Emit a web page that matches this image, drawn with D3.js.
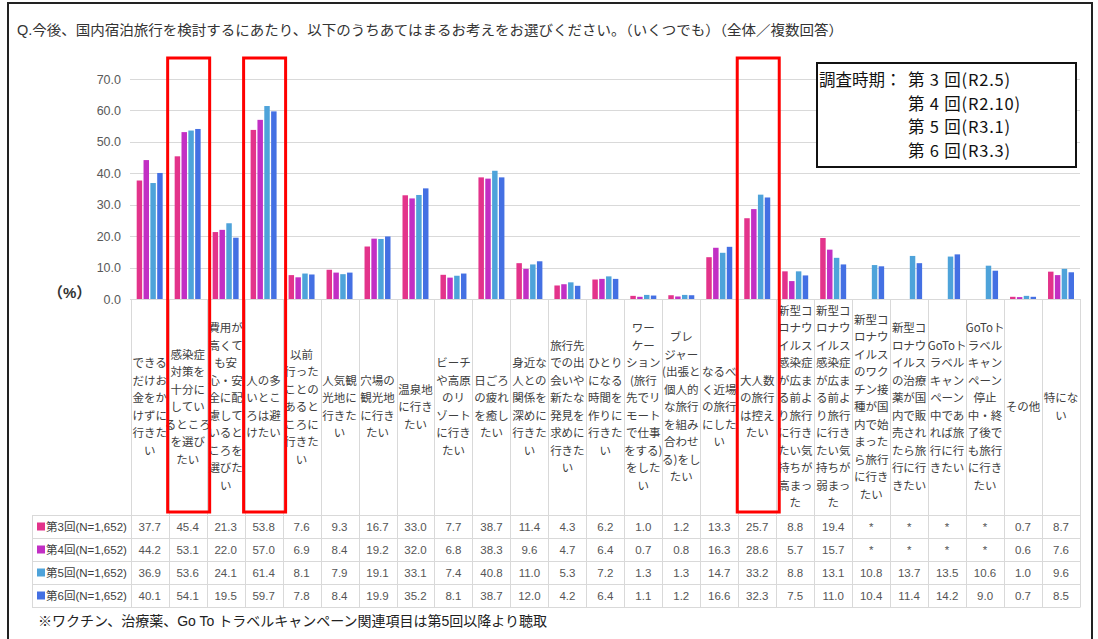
<!DOCTYPE html>
<html lang="ja">
<head>
<meta charset="UTF-8">
<title>国内宿泊旅行の考え</title>
<style>
  body { margin: 0; background: #fff; }
  svg { display: block; font-family: "Liberation Sans", "Noto Sans CJK JP", sans-serif; }
  .grid line { stroke: #d9d9d9; }
  .tbl line { stroke: #d9d9d9; }
</style>
</head>
<body>
<script src="https://d3js.org/d3.v7.min.js"></script>
<script>
// 選択肢（改行位置は元図のまま）
const categories = [
  "できる\nだけお\n金をか\nけずに\n行きた\nい",
  "感染症\n対策を\n十分に\nしてい\nるところ\nを選び\nたい",
  "費用が\n高くて\nも安\n心・安\n全に配\n慮して\nいると\nころを\n選びた\nい",
  "人の多\nいとこ\nろは避\nけたい",
  "以前\n行った\nことの\nあると\nころに\n行きた\nい",
  "人気観\n光地に\n行きた\nい",
  "穴場の\n観光地\nに行き\nたい",
  "温泉地\nに行き\nたい",
  "ビーチ\nや高原\nのリ\nゾート\nに行き\nたい",
  "日ごろ\nの疲れ\nを癒し\nたい",
  "身近な\n人との\n関係を\n深めに\n行きた\nい",
  "旅行先\nでの出\n会いや\n新たな\n発見を\n求めに\n行きた\nい",
  "ひとり\nになる\n時間を\n作りに\n行きた\nい",
  "ワー\nケー\nション\n(旅行\n先でリ\nモート\nで仕事\nをする)\nをした\nい",
  "ブレ\nジャー\n(出張と\n個人的\nな旅行\nを組み\n合わせ\nる)をし\nたい",
  "なるべ\nく近場\nの旅行\nにした\nい",
  "大人数\nの旅行\nは控え\nたい",
  "新型コ\nロナウ\nイルス\n感染症\nが広ま\nる前よ\nり旅行\nに行き\nたい気\n持ちが\n高まっ\nた",
  "新型コ\nロナウ\nイルス\n感染症\nが広ま\nる前よ\nり旅行\nに行き\nたい気\n持ちが\n弱まっ\nた",
  "新型コ\nロナウ\nイルス\nのワク\nチン接\n種が国\n内で始\nまった\nら旅行\nに行き\nたい",
  "新型コ\nロナウ\nイルス\nの治療\n薬が国\n内で販\n売され\nたら旅\n行に行\nきたい",
  "GoToト\nラベル\nキャン\nペーン\n中であ\nれば旅\n行に行\nきたい",
  "GoToト\nラベル\nキャン\nペーン\n停止\n中・終\n了後で\nも旅行\nに行き\nたい",
  "その他",
  "特にな\nい"
];

const seriesNames = ["第3回(N=1,652)", "第4回(N=1,652)", "第5回(N=1,652)", "第6回(N=1,652)"];
const seriesColors = ["#e3338b", "#c22fc4", "#4ea3da", "#4470e3"];

// null = 未聴取（*）
const wave3 = [37.7, 45.4, 21.3, 53.8, 7.6, 9.3, 16.7, 33.0, 7.7, 38.7, 11.4, 4.3, 6.2, 1.0, 1.2, 13.3, 25.7, 8.8, 19.4, null, null, null, null, 0.7, 8.7];
const wave4 = [44.2, 53.1, 22.0, 57.0, 6.9, 8.4, 19.2, 32.0, 6.8, 38.3, 9.6, 4.7, 6.4, 0.7, 0.8, 16.3, 28.6, 5.7, 15.7, null, null, null, null, 0.6, 7.6];
const wave5 = [36.9, 53.6, 24.1, 61.4, 8.1, 7.9, 19.1, 33.1, 7.4, 40.8, 11.0, 5.3, 7.2, 1.3, 1.3, 14.7, 33.2, 8.8, 13.1, 10.8, 13.7, 13.5, 10.6, 1.0, 9.6];
const wave6 = [40.1, 54.1, 19.5, 59.7, 7.8, 8.4, 19.9, 35.2, 8.1, 38.7, 12.0, 4.2, 6.4, 1.1, 1.2, 16.6, 32.3, 7.5, 11.0, 10.4, 11.4, 14.2, 9.0, 0.7, 8.5];
const allWaves = [wave3, wave4, wave5, wave6];

const yTicks = [0, 10, 20, 30, 40, 50, 60, 70];
const highlighted = [1, 3, 16]; // 赤枠の列

const legendHead = "調査時期：";
const legendLines = ["第 3 回(R2.5)", "第 4 回(R2.10)", "第 5 回(R3.1)", "第 6 回(R3.3)"];
const title = "Q.今後、国内宿泊旅行を検討するにあたり、以下のうちあてはまるお考えをお選びください。（いくつでも）（全体／複数回答）";
const note = "※ワクチン、治療薬、Go To トラベルキャンペーン関連項目は第5回以降より聴取";

const W = 1098, H = 639;
const svg = d3.select("body").append("svg").attr("width", W).attr("height", H);

// 外枠
svg.append("rect").attr("x", 8).attr("y", 3).attr("width", 1084).attr("height", H + 10)
  .attr("fill", "none").attr("stroke", "#222").attr("stroke-width", 2);

svg.append("text").attr("x", 17).attr("y", 35).attr("font-size", 14).attr("fill", "#333")
  .attr("textLength", 826).attr("lengthAdjust", "spacingAndGlyphs")
  .text(title);

const x = d3.scaleBand().domain(d3.range(categories.length)).range([130.7, 1080]);
const xi = d3.scaleBand().domain(d3.range(4)).range([6, x.bandwidth() - 6]).paddingInner(0.2);
const y = d3.scaleLinear().domain([0, 70]).range([299, 79]);

// grid
const grid = svg.append("g").attr("class", "grid");
grid.selectAll("line").data(yTicks).join("line")
  .attr("x1", 130).attr("x2", 1080)
  .attr("y1", d => Math.round(y(d)) + 0.5).attr("y2", d => Math.round(y(d)) + 0.5);

const yAxis = svg.append("g").attr("transform", "translate(121,0)")
  .call(d3.axisLeft(y).tickValues(yTicks).tickFormat(d3.format(".1f")).tickSize(0).tickPadding(0));
yAxis.select(".domain").remove();
yAxis.selectAll("text").attr("font-size", 12.5).attr("fill", "#595959")
  .attr("font-family", "Liberation Sans, sans-serif");

svg.append("text").attr("x", 48).attr("y", 298).attr("font-size", 15).attr("font-weight", "bold")
  .attr("fill", "#333").text("（%）");

// bars
const groups = svg.append("g").selectAll("g").data(categories.map((c, i) => i)).join("g")
  .attr("transform", i => `translate(${x(i)},0)`);
groups.selectAll("rect")
  .data(i => allWaves.map((w, s) => ({ s, v: w[i] })).filter(d => d.v !== null))
  .join("rect")
  .attr("x", d => xi(d.s)).attr("width", xi.bandwidth())
  .attr("y", d => y(d.v)).attr("height", d => y(0) - y(d.v))
  .attr("fill", d => seriesColors[d.s]);

// category labels + table
const tbl = svg.append("g").attr("class", "tbl");
const tableTop = 515.5, rowH = 23, labelTop = 299;
const tableBottom = tableTop + rowH * 4;
const colEdges = d3.range(categories.length + 1).map(i => i < categories.length ? x(i) : 1080);
tbl.selectAll("line.v").data(colEdges).join("line").attr("class", "v")
  .attr("x1", d => Math.round(d) + 0.5).attr("x2", d => Math.round(d) + 0.5)
  .attr("y1", labelTop).attr("y2", tableBottom);
tbl.append("line").attr("x1", 32.5).attr("x2", 32.5).attr("y1", tableTop).attr("y2", tableBottom);
tbl.selectAll("line.h").data(d3.range(5)).join("line").attr("class", "h")
  .attr("x1", 32).attr("x2", 1080)
  .attr("y1", r => tableTop + r * rowH).attr("y2", r => tableTop + r * rowH);

const lineH = 17.5, labelMid = 407;
const catLabels = svg.append("g").selectAll("text").data(categories).join("text")
  .attr("text-anchor", "middle").attr("font-size", 11.5).attr("fill", "#404040")
  .attr("font-family", "Noto Sans CJK JP, sans-serif");
catLabels.each(function (c, i) {
  const lines = c.split("\n");
  const t = d3.select(this);
  const y0 = labelMid - (lines.length - 1) * lineH / 2 + 4;
  lines.forEach((ln, k) => {
    t.append("tspan").attr("x", x(i) + x.bandwidth() / 2).attr("y", y0 + k * lineH).text(ln);
  });
});

seriesNames.forEach((name, s) => {
  const cy = tableTop + s * rowH + rowH / 2;
  svg.append("rect").attr("x", 37).attr("y", cy - 4.5).attr("width", 8).attr("height", 8)
    .attr("fill", seriesColors[s]);
  svg.append("text").attr("x", 46).attr("y", cy + 4).attr("font-size", 11.5).attr("fill", "#404040")
    .text(name);
  svg.append("g").selectAll("text").data(allWaves[s]).join("text")
    .attr("x", (v, i) => x(i) + x.bandwidth() / 2).attr("y", cy + 4)
    .attr("text-anchor", "middle").attr("font-size", 11.5).attr("fill", "#555")
    .text(v => v === null ? "*" : v.toFixed(1));
});

svg.append("text").attr("x", 38).attr("y", 626).attr("font-size", 14).attr("fill", "#222")
  .text(note);

// 赤枠
svg.append("g").selectAll("rect").data(highlighted).join("rect")
  .attr("x", i => x(i) + x.bandwidth() / 2 - 20).attr("y", 58)
  .attr("width", 42).attr("height", 454)
  .attr("fill", "none").attr("stroke", "#ff0000").attr("stroke-width", 3);

// 調査時期
const lg = svg.append("g").attr("font-family", "Noto Sans CJK JP, sans-serif")
  .attr("font-size", 16.5).attr("fill", "#111");
lg.append("rect").attr("x", 817).attr("y", 63).attr("width", 259).attr("height", 104)
  .attr("fill", "#fff").attr("stroke", "#111").attr("stroke-width", 2);
lg.append("text").attr("x", 819).attr("y", 86).text(legendHead);
lg.selectAll("text.item").data(legendLines).join("text").attr("class", "item")
  .attr("x", 908)
  .attr("y", (d, i) => 86 + i * 23.5)
  .attr("letter-spacing", 0.8)
  .text(d => d);
</script>
</body>
</html>
